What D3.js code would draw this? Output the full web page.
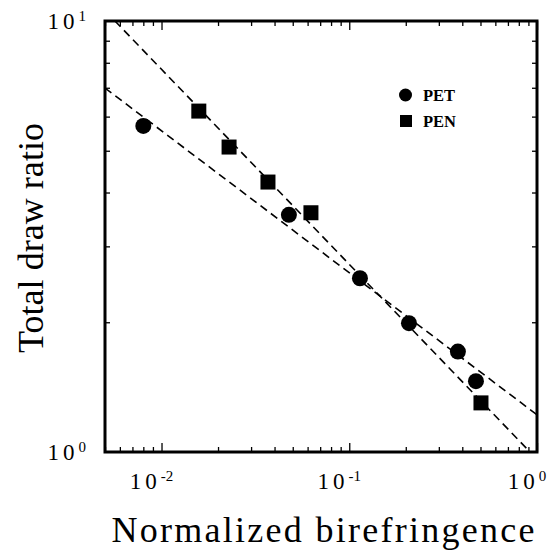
<!DOCTYPE html>
<html>
<head>
<meta charset="utf-8">
<script src="https://cdn.jsdelivr.net/npm/d3@7"></script>
<style>
  body { margin: 0; background: #fff; }
  svg { display: block; }
  text { font-family: "Liberation Serif", "Times New Roman", serif; fill: #000; }
</style>
</head>
<body>
<script>
// ---- data ----
const petX = [0.0080, 0.0477, 0.114, 0.208, 0.379, 0.473];
const petY = [5.71, 3.55, 2.53, 1.99, 1.71, 1.46];
const penX = [0.0158, 0.0229, 0.0369, 0.0625, 0.503];
const penY = [6.18, 5.10, 4.23, 3.59, 1.30];
// dashed fit lines (end points)
const petFitX = [0.005, 1.0];
const petFitY = [6.99, 1.22];
const penFitX = [0.00565, 0.918];
const penFitY = [10.0, 1.0];
// axis ticks
const xMajor = [0.01, 0.1, 1];
const xMajorExp = ["-2", "-1", "0"];
const yMajor = [1, 10];
const yMajorExp = ["0", "1"];
const legendLabels = ["PET", "PEN"];
const xTitle = "Normalized birefringence";
const yTitle = "Total draw ratio";

const W = 554, H = 552;
const L = 105, R = 537, T = 21, B = 452;

const x = d3.scaleLog().domain([0.005, 1]).range([L, R]);
const y = d3.scaleLog().domain([1, 10]).range([B, T]);

const svg = d3.select("body").append("svg").attr("width", W).attr("height", H);

// minor ticks
const xMinor = [];
for (let e = -3; e <= -1; e++) for (let m = 2; m <= 9; m++) {
  const v = m * Math.pow(10, e);
  if (v >= 0.005 && v <= 1) xMinor.push(v);
}
const yMinor = [];
for (let m = 2; m <= 9; m++) yMinor.push(m);

function tickAxis(gen, scale, values, size, transform) {
  const g = svg.append("g").attr("transform", transform)
    .call(gen(scale).tickValues(values).tickSizeInner(-size).tickSizeOuter(0).tickFormat(""));
  g.select(".domain").remove();
  g.selectAll("line").attr("stroke", "#000").attr("stroke-width", 1.3);
}
tickAxis(d3.axisBottom, x, xMinor, 5, `translate(0,${B})`);
tickAxis(d3.axisBottom, x, xMajor, 9, `translate(0,${B})`);
tickAxis(d3.axisTop, x, xMinor, 5, `translate(0,${T})`);
tickAxis(d3.axisTop, x, xMajor, 9, `translate(0,${T})`);
tickAxis(d3.axisLeft, y, yMinor, 5, `translate(${L},0)`);
tickAxis(d3.axisRight, y, yMinor, 5, `translate(${R},0)`);

// clip
svg.append("clipPath").attr("id", "clip")
  .append("rect").attr("x", L).attr("y", T).attr("width", R - L).attr("height", B - T);

const line = d3.line().x(d => x(d[0])).y(d => y(d[1]));
const fits = [d3.zip(petFitX, petFitY), d3.zip(penFitX, penFitY)];
svg.append("g").attr("clip-path", "url(#clip)")
  .selectAll("path").data(fits).join("path")
  .attr("d", line)
  .attr("fill", "none").attr("stroke", "#000")
  .attr("stroke-width", 1.6).attr("stroke-dasharray", "8,5");

// frame
svg.append("rect").attr("x", L).attr("y", T).attr("width", R - L).attr("height", B - T)
  .attr("fill", "none").attr("stroke", "#000").attr("stroke-width", 3);

// points
svg.append("g").selectAll("circle").data(d3.zip(petX, petY)).join("circle")
  .attr("cx", d => x(d[0])).attr("cy", d => y(d[1])).attr("r", 8).attr("fill", "#000");
const sq = 15;
svg.append("g").selectAll("rect").data(d3.zip(penX, penY)).join("rect")
  .attr("x", d => x(d[0]) - sq / 2).attr("y", d => y(d[1]) - sq / 2)
  .attr("width", sq).attr("height", sq).attr("fill", "#000");

// x tick labels
xMajor.forEach((v, i) => {
  const t = svg.append("text").attr("x", x(v) - 10).attr("y", B + 37)
    .attr("text-anchor", "middle").attr("font-size", 23);
  t.append("tspan").attr("letter-spacing", 4).text("10");
  t.append("tspan").attr("font-size", 15).attr("dy", -8).text(xMajorExp[i]);
});
// y tick labels
yMajor.forEach((v, i) => {
  const t = svg.append("text").attr("x", 86).attr("y", y(v) + 8)
    .attr("text-anchor", "end").attr("font-size", 23);
  t.append("tspan").attr("letter-spacing", 4).text("10");
  t.append("tspan").attr("font-size", 15).attr("dy", -8).text(yMajorExp[i]);
});

// legend
const lg = svg.append("g");
lg.append("circle").attr("cx", 405.5).attr("cy", 95).attr("r", 6.5).attr("fill", "#000");
lg.append("rect").attr("x", 400).attr("y", 115).attr("width", 12).attr("height", 12).attr("fill", "#000");
lg.selectAll("text").data(legendLabels).join("text")
  .attr("x", 423).attr("y", (d, i) => 100.5 + i * 26)
  .attr("font-size", 16.5).attr("font-weight", "bold").text(d => d);

// axis titles
svg.append("text").attr("x", (L + R) / 2 + 2).attr("y", 542)
  .attr("text-anchor", "middle").attr("font-size", 36)
  .attr("textLength", 423).attr("lengthAdjust", "spacing").text(xTitle);
svg.append("text").attr("transform", `translate(43,238) rotate(-90)`)
  .attr("text-anchor", "middle").attr("font-size", 36)
  .attr("textLength", 230).attr("lengthAdjust", "spacing").text(yTitle);
</script>
</body>
</html>
